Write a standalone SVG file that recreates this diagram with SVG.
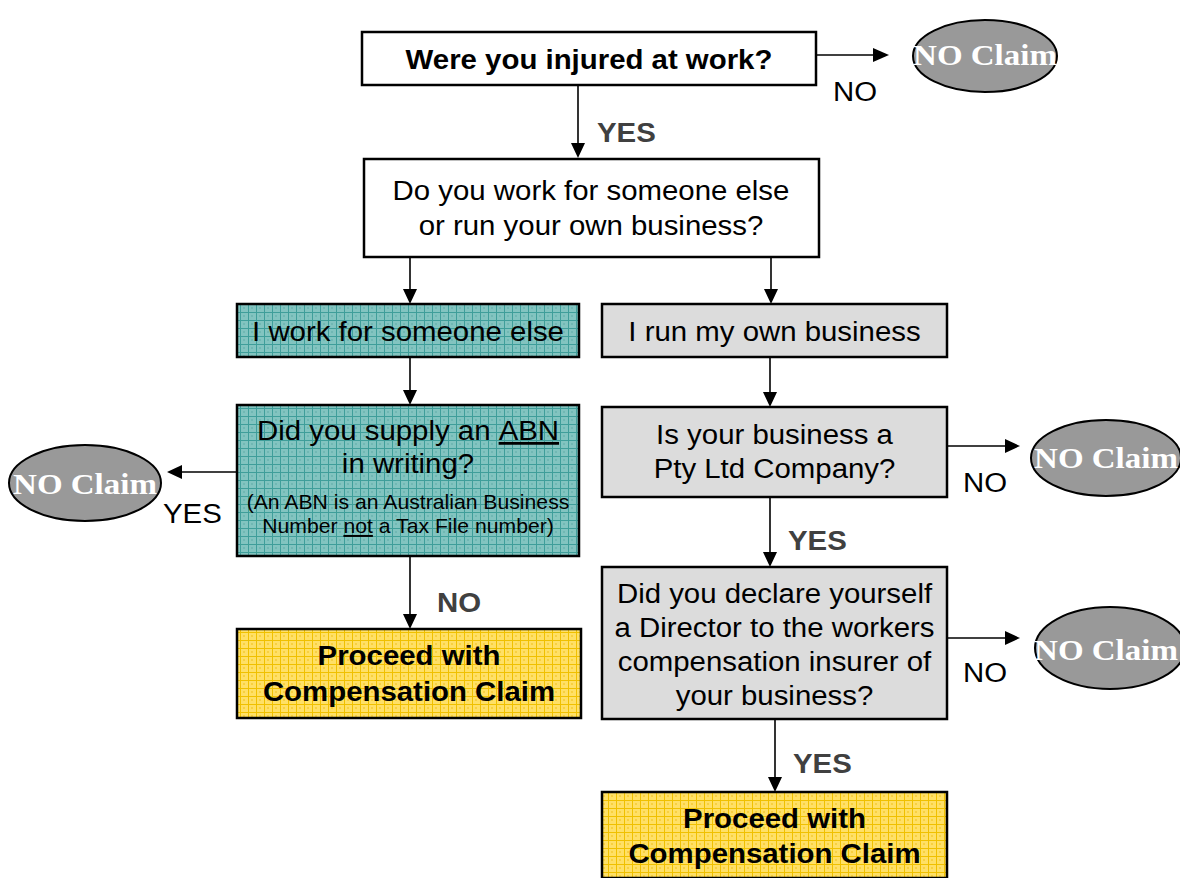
<svg xmlns="http://www.w3.org/2000/svg" width="1180" height="878" viewBox="0 0 1180 878">
  <style>
    .box { stroke: #000; stroke-width: 2.5; }
    .plain { fill: #ffffff; }
    .gray { fill: #dcdcdc; }
    .teal { fill: url(#tealGrid); }
    .yellow { fill: url(#yellowGrid); }
    .oval { fill: #999999; stroke: #000; stroke-width: 2; }
    .conn { stroke: #000; stroke-width: 1.6; fill: none; }
    .head { fill: #000; }
    .t { font-family: "Liberation Sans", Arial, sans-serif; font-size: 28px; fill: #000; text-anchor: middle; }
    .tb { font-family: "Liberation Sans", Arial, sans-serif; font-size: 28px; font-weight: bold; fill: #000; text-anchor: middle; }
    .small { font-family: "Liberation Sans", Arial, sans-serif; font-size: 20px; fill: #000; text-anchor: middle; }
    .lbl { font-family: "Liberation Sans", Arial, sans-serif; font-size: 28px; fill: #000; }
    .lblb { font-family: "Liberation Sans", Arial, sans-serif; font-size: 28px; font-weight: bold; fill: #404040; }
    .claim { font-family: "Liberation Serif", "Times New Roman", serif; font-size: 30px; font-weight: bold; fill: #ffffff; text-anchor: middle; }
    .u { text-decoration: underline; }
  </style>
  <defs>
    <pattern id="tealGrid" patternUnits="userSpaceOnUse" width="8" height="8">
      <rect width="8" height="8" fill="#82c4c0"/>
      <path d="M0 0.5H8M0.5 0V8" stroke="#3f9e9a" stroke-width="1"/>
      <rect x="3" y="3" width="2" height="2" fill="#70b8b4"/>
    </pattern>
    <pattern id="yellowGrid" patternUnits="userSpaceOnUse" width="8" height="8">
      <rect width="8" height="8" fill="#ffe066"/>
      <path d="M0 0.5H8M0.5 0V8" stroke="#f0c000" stroke-width="1"/>
      <rect x="3" y="3" width="2" height="2" fill="#f8d040"/>
    </pattern>
  </defs>

  <g id="connectors">
    <path class="conn" d="M578 85V145"/>
    <path class="head" d="M571 143L578 158L585 143Z"/>
    <path class="conn" d="M816 55H875"/>
    <path class="head" d="M873 48L889 55L873 62Z"/>
    <path class="conn" d="M410 257V291"/>
    <path class="head" d="M403 289L410 304L417 289Z"/>
    <path class="conn" d="M771 257V291"/>
    <path class="head" d="M764 289L771 304L778 289Z"/>
    <path class="conn" d="M410 357V392"/>
    <path class="head" d="M403 390L410 405L417 390Z"/>
    <path class="conn" d="M770 357V394"/>
    <path class="head" d="M763 392L770 407L777 392Z"/>
    <path class="conn" d="M237 472H180"/>
    <path class="head" d="M182 465L167 472L182 479Z"/>
    <path class="conn" d="M410 556V616"/>
    <path class="head" d="M403 614L410 629L417 614Z"/>
    <path class="conn" d="M947 446H1007"/>
    <path class="head" d="M1005 439L1020 446L1005 453Z"/>
    <path class="conn" d="M770 497V554"/>
    <path class="head" d="M763 552L770 567L777 552Z"/>
    <path class="conn" d="M947 638H1007"/>
    <path class="head" d="M1005 631L1020 638L1005 645Z"/>
    <path class="conn" d="M775 719V779"/>
    <path class="head" d="M768 777L775 792L782 777Z"/>
  </g>

  <g id="n-injured">
    <rect class="box plain" x="362" y="32" width="454" height="53"/>
    <text class="tb" transform="translate(589,69) scale(1.05,1)">Were you injured at work?</text>
  </g>

  <g id="n-noclaim-top">
    <ellipse class="oval" cx="985" cy="56" rx="72" ry="36"/>
    <text class="claim" transform="translate(985,65) scale(1.1,1)">NO Claim</text>
  </g>

  <g id="n-workfor">
    <rect class="box plain" x="364" y="159" width="455" height="98"/>
    <text class="t" transform="translate(591,200) scale(1.05,1)">Do you work for someone else</text>
    <text class="t" transform="translate(591,235) scale(1.05,1)">or run your own business?</text>
  </g>

  <g id="n-employee">
    <rect class="box teal" x="237" y="304" width="342" height="53"/>
    <text class="t" transform="translate(408,341) scale(1.05,1)">I work for someone else</text>
  </g>

  <g id="n-ownbiz">
    <rect class="box gray" x="602" y="304" width="345" height="53"/>
    <text class="t" transform="translate(774.5,341) scale(1.05,1)">I run my own business</text>
  </g>

  <g id="n-abn">
    <rect class="box teal" x="237" y="405" width="342" height="151"/>
    <text class="t" transform="translate(408,440) scale(1.05,1)">Did you supply an <tspan class="u">ABN</tspan></text>
    <text class="t" transform="translate(408,473) scale(1.05,1)">in writing?</text>
    <text class="small" transform="translate(408,509) scale(1.06,1)">(An ABN is an Australian Business</text>
    <text class="small" transform="translate(408,533) scale(1.06,1)">Number <tspan class="u">not</tspan> a Tax File number)</text>
  </g>

  <g id="n-noclaim-left">
    <ellipse class="oval" cx="85" cy="483" rx="76" ry="38"/>
    <text class="claim" transform="translate(85,494) scale(1.1,1)">NO Claim</text>
  </g>

  <g id="n-proceed-left">
    <rect class="box yellow" x="237" y="629" width="344" height="89"/>
    <text class="tb" transform="translate(409,665) scale(1.05,1)">Proceed with</text>
    <text class="tb" transform="translate(409,701) scale(1.05,1)">Compensation Claim</text>
  </g>

  <g id="n-pty">
    <rect class="box gray" x="602" y="407" width="345" height="90"/>
    <text class="t" transform="translate(774.5,444) scale(1.05,1)">Is your business a</text>
    <text class="t" transform="translate(774.5,478) scale(1.05,1)">Pty Ltd Company?</text>
  </g>

  <g id="n-noclaim-pty">
    <ellipse class="oval" cx="1106" cy="458" rx="75" ry="38"/>
    <text class="claim" transform="translate(1106,468) scale(1.1,1)">NO Claim</text>
  </g>

  <g id="n-director">
    <rect class="box gray" x="602" y="567" width="345" height="152"/>
    <text class="t" transform="translate(774.5,603) scale(1.05,1)">Did you declare yourself</text>
    <text class="t" transform="translate(774.5,637) scale(1.05,1)">a Director to the workers</text>
    <text class="t" transform="translate(774.5,671) scale(1.05,1)">compensation insurer of</text>
    <text class="t" transform="translate(774.5,705) scale(1.05,1)">your business?</text>
  </g>

  <g id="n-noclaim-dir">
    <ellipse class="oval" cx="1110" cy="648" rx="75" ry="41"/>
    <text class="claim" transform="translate(1106,660) scale(1.1,1)">NO Claim</text>
  </g>

  <g id="n-proceed-right">
    <rect class="box yellow" x="602" y="792" width="345" height="86"/>
    <text class="tb" transform="translate(774.5,828) scale(1.05,1)">Proceed with</text>
    <text class="tb" transform="translate(774.5,863) scale(1.05,1)">Compensation Claim</text>
  </g>

  <g id="labels">
    <text class="lblb" transform="translate(597,142) scale(1.05,1)">YES</text>
    <text class="lbl" transform="translate(833,101) scale(1.05,1)">NO</text>
    <text class="lbl" transform="translate(163,523) scale(1.05,1)">YES</text>
    <text class="lblb" transform="translate(437,612) scale(1.05,1)">NO</text>
    <text class="lbl" transform="translate(963,492) scale(1.05,1)">NO</text>
    <text class="lblb" transform="translate(788,550) scale(1.05,1)">YES</text>
    <text class="lbl" transform="translate(963,682) scale(1.05,1)">NO</text>
    <text class="lblb" transform="translate(793,773) scale(1.05,1)">YES</text>
  </g>
</svg>
